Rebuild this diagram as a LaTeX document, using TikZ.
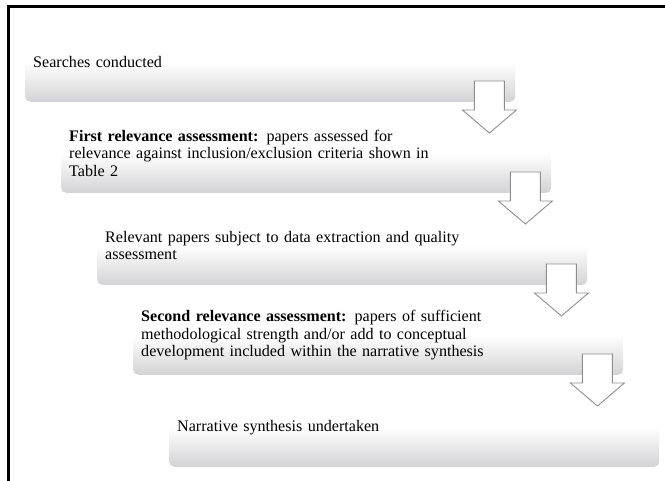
\documentclass[tikz,border=0pt]{standalone}
\usepackage{fontspec}
\setmainfont{Liberation Serif}
\definecolor{boxgray}{HTML}{D3D3D5}
\definecolor{arrowgray}{HTML}{8E8E8E}
\begin{document}
\begin{tikzpicture}[x=1pt,y=-1pt,
  stepbox/.style={rounded corners=5pt, top color=white, bottom color=boxgray, middle color=white,
    anchor=south west, minimum width=490pt, minimum height=79pt, text width=474pt,
    inner xsep=8pt, inner ysep=0pt, align=left, font=\fontsize{16.1}{17.5}\selectfont},
  blockarrow/.style={draw=arrowgray, fill=white, line width=0.9pt, line join=miter}]
\useasboundingbox (0,0) rectangle (665,481);
\draw[line width=3pt] (8,481) -- (8,7) -- (665,7);
\node[stepbox] (b1) at (25,102) {Searches conducted};
\node[stepbox] (b2) at (61,193) {\textbf{First relevance assessment:} papers assessed for\\relevance against inclusion/exclusion criteria shown in\\Table 2};
\node[stepbox] (b3) at (97,285) {Relevant papers subject to data extraction and quality\\assessment};
\node[stepbox] (b4) at (133,375) {\textbf{Second relevance assessment:} papers of sufficient\\methodological strength and/or add to conceptual\\development included within the narrative synthesis};
\node[stepbox] (b5) at (169,467) {Narrative synthesis undertaken};
\foreach \b in {b1,b2,b3,b4}{
  \draw[blockarrow] ([xshift=-41pt,yshift=21pt]\b.south east) -- ++(30,0) -- ++(0,29) -- ++(12,0) -- ++(-27,23) -- ++(-27,-23) -- ++(12,0) -- cycle;
}
\end{tikzpicture}
\end{document}
